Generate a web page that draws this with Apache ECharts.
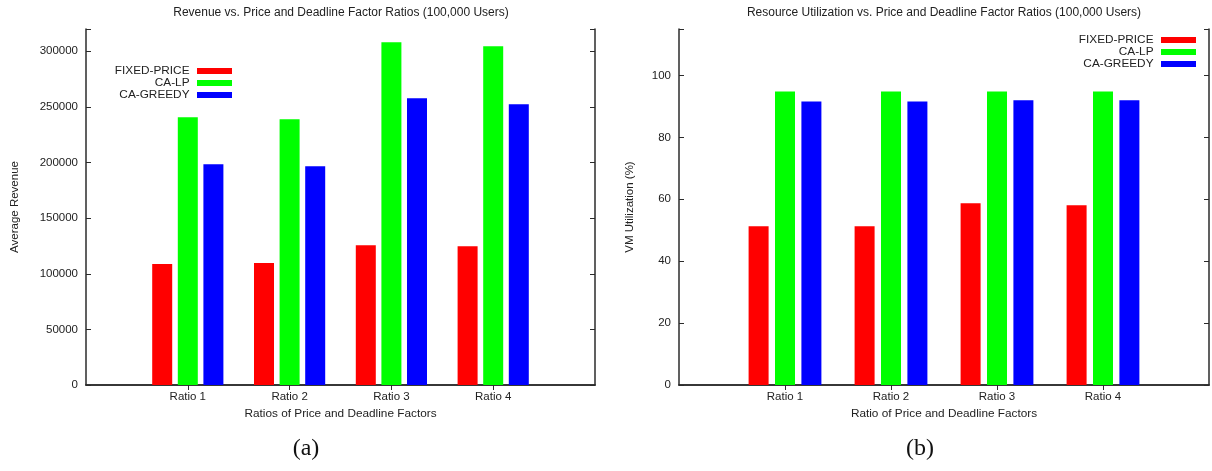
<!DOCTYPE html>
<html><head><meta charset="utf-8">
<script src="https://cdn.jsdelivr.net/npm/echarts@6/dist/echarts.min.js"></script>
<style>html,body{margin:0;padding:0;background:#fff}#c{width:1212px;height:471px}</style>
</head><body><div id="c"></div>
<script>
// ---- data ----
const categories = ['Ratio 1', 'Ratio 2', 'Ratio 3', 'Ratio 4'];
const seriesNames = ['FIXED-PRICE', 'CA-LP', 'CA-GREEDY'];
const revenueFixed = [108700, 109600, 125700, 124800];
const revenueLP = [240700, 238900, 308000, 304500];
const revenueGreedy = [198500, 196700, 257700, 252300];
const utilFixed = [51.3, 51.3, 58.7, 58.1];
const utilLP = [94.8, 94.8, 94.8, 94.8];
const utilGreedy = [91.6, 91.6, 92.0, 92.0];
const revenueAxis = { min: 0, max: 320000, interval: 50000 };
const utilAxis = { min: 0, max: 115, interval: 20 };
const colors = ['#ff0000', '#00ff00', '#0000ff'];

// ---- helpers ----
const FONT = 'Liberation Sans, Arial, Helvetica, sans-serif';
const TXT = '#222';
const LINE = { lineStyle: { color: '#2b2b2b', width: 1.5 } };
const cats = [''].concat(categories, ['']);
const pad = a => [null].concat(a, [null]);
const inner = idx => idx > 0 && idx < cats.length - 1;

function xAxes(grid, name) {
  return [
    { gridIndex: grid, type: 'category', data: cats, boundaryGap: false, position: 'bottom',
      axisLine: LINE, axisTick: { inside: true, length: 5, interval: inner, lineStyle: { color: '#2b2b2b' } },
      axisLabel: { interval: 0, margin: 6, fontSize: 11.5, color: TXT, fontFamily: FONT },
      name: name, nameLocation: 'middle', nameGap: 23,
      nameTextStyle: { fontSize: 11.8, color: TXT, fontFamily: FONT } },
    { gridIndex: grid, type: 'category', data: cats, boundaryGap: false, position: 'top',
      axisLine: LINE, axisTick: { inside: true, length: 5, interval: inner, lineStyle: { color: '#2b2b2b' } },
      axisLabel: { show: false } }
  ];
}
function yAxes(grid, ax, name, gap) {
  const fmt = v => (v % ax.interval === 0 ? String(v) : '');
  return [
    { gridIndex: grid, type: 'value', min: ax.min, max: ax.max, interval: ax.interval, position: 'left',
      splitLine: { show: false }, axisLine: Object.assign({ show: true }, LINE),
      axisTick: { show: true, inside: true, length: 5, lineStyle: { color: '#2b2b2b' } },
      axisLabel: { margin: 8, fontSize: 11.5, color: TXT, fontFamily: FONT, formatter: fmt },
      name: name, nameLocation: 'middle', nameGap: gap,
      nameTextStyle: { fontSize: 11.5, color: TXT, fontFamily: FONT } },
    { gridIndex: grid, type: 'value', min: ax.min, max: ax.max, interval: ax.interval, position: 'right',
      splitLine: { show: false }, axisLine: Object.assign({ show: true }, LINE),
      axisTick: { show: true, inside: true, length: 5, lineStyle: { color: '#2b2b2b' } },
      axisLabel: { show: false } }
  ];
}
function bars(xi, yi, arrs, gap) {
  return arrs.map((a, i) => ({
    type: 'bar', name: seriesNames[i], xAxisIndex: xi, yAxisIndex: yi,
    data: pad(a), barWidth: 20, barGap: gap, itemStyle: { color: colors[i] }
  }));
}
function legend(right, top) {
  return { orient: 'vertical', align: 'right', right: right, top: top, padding: 0,
    itemWidth: 35, itemHeight: 6, itemGap: 0, icon: 'rect', selectedMode: false,
    data: seriesNames,
    textStyle: { fontSize: 11.8, lineHeight: 11.7, color: TXT, fontFamily: FONT, padding: [0, 2.5, 0, 0] } };
}
function title(text, x, top, style) {
  return { text: text, left: x, top: top, textAlign: 'center', padding: 0,
    textStyle: Object.assign({ fontSize: 12, fontWeight: 'normal', color: TXT, fontFamily: FONT }, style || {}) };
}

const chart = echarts.init(document.getElementById('c'), null, { renderer: 'canvas' });
chart.setOption({
  animation: false,
  backgroundColor: '#fff',
  color: colors,
  title: [
    title('Revenue vs. Price and Deadline Factor Ratios (100,000 Users)', 341, 7),
    title('Resource Utilization vs. Price and Deadline Factor Ratios (100,000 Users)', 944, 7),
    title('(a)', 306, 437, { fontFamily: 'Liberation Serif, DejaVu Serif, serif', fontSize: 24, color: '#111' }),
    title('(b)', 920, 437, { fontFamily: 'Liberation Serif, DejaVu Serif, serif', fontSize: 24, color: '#111' })
  ],
  legend: [legend(980, 65), legend(16, 34)],
  grid: [
    { left: 86, top: 29, width: 509, height: 356 },
    { left: 679, top: 29, width: 530, height: 356 }
  ],
  xAxis: xAxes(0, 'Ratios of Price and Deadline Factors').concat(xAxes(1, 'Ratio of Price and Deadline Factors')),
  yAxis: yAxes(0, revenueAxis, 'Average Revenue', 65).concat(yAxes(1, utilAxis, 'VM Utilization (%)', 43)),
  series: bars(0, 0, [revenueFixed, revenueLP, revenueGreedy], '28%')
    .concat(bars(2, 2, [utilFixed, utilLP, utilGreedy], '32%'))
});
</script></body></html>
